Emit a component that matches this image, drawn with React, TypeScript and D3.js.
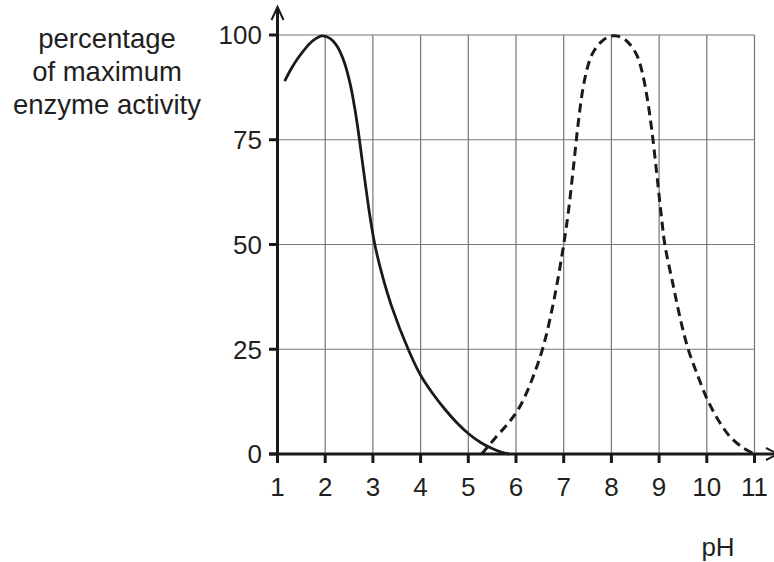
import React from "react";
import * as d3 from "d3";

const xTicks = [1, 2, 3, 4, 5, 6, 7, 8, 9, 10, 11];
const yTicks = [0, 25, 50, 75, 100];
const yLabelLines = ["percentage", "of maximum", "enzyme activity"];
const xLabel = "pH";

// enzyme A (solid)
const solidPH = [1.15, 1.3, 1.45, 1.6, 1.75, 1.93, 2.1, 2.25, 2.4, 2.52, 2.62, 2.7, 2.8, 2.94, 3.04, 3.2, 3.4, 3.74, 4.0, 4.25, 4.5, 4.75, 5.0, 5.25, 5.5, 5.7, 5.85];
const solidAct = [89, 92.2, 94.8, 97, 98.7, 99.8, 99.2, 97.3, 93.5, 88.5, 82.5, 76.5, 68, 56.6, 50, 42.5, 35, 25, 18.8, 14.5, 10.8, 7.6, 4.9, 2.8, 1.3, 0.4, 0];

// enzyme B (dashed)
const dashedPH = [5.28, 5.6, 5.85, 6.08, 6.33, 6.57, 6.8, 7.0, 7.1, 7.2, 7.3, 7.4, 7.5, 7.6, 7.78, 7.95, 8.07, 8.25, 8.4, 8.54, 8.64, 8.75, 8.85, 8.95, 9.05, 9.12, 9.3, 9.45, 9.61, 9.79, 10.0, 10.24, 10.49, 10.77, 11.0];
const dashedAct = [0, 4.3, 7.5, 11.3, 17.6, 25.6, 37, 50, 58, 68, 78.5, 87, 92.3, 95.5, 98.3, 99.6, 99.8, 99.2, 97.6, 95, 91.4, 85, 77, 67, 56.5, 50, 40, 32, 25, 19.3, 13.3, 8.1, 4.1, 1.4, 0];

const W = 774;
const H = 562;

export default function App() {
  const x = d3.scaleLinear().domain([1, 11]).range([277.5, 754.5]);
  const y = d3.scaleLinear().domain([0, 100]).range([454, 35]);

  const line = d3
    .line<[number, number]>()
    .x((d) => x(d[0]))
    .y((d) => y(d[1]))
    .curve(d3.curveCatmullRom.alpha(0.5));

  const solid = solidPH.map((p, i) => [p, solidAct[i]] as [number, number]);
  const dashed = dashedPH.map((p, i) => [p, dashedAct[i]] as [number, number]);

  const font = "'Liberation Sans', Arial, sans-serif";
  const textColor = "#231f20";
  const gridColor = "#777";
  const x0 = x(1);
  const xEnd = x(11);
  const y0 = y(0);

  return (
    <svg
      width={W}
      height={H}
      style={{ position: "absolute", left: 0, top: 0, background: "#fff" }}
      fontFamily={font}
    >
      {/* grid */}
      {xTicks.slice(1).map((t) => (
        <line key={"gx" + t} x1={x(t)} x2={x(t)} y1={y(100)} y2={y0} stroke={gridColor} strokeWidth={1.2} />
      ))}
      {yTicks.slice(1).map((t) => (
        <line key={"gy" + t} x1={x0} x2={xEnd} y1={y(t)} y2={y(t)} stroke={gridColor} strokeWidth={1.2} />
      ))}

      {/* curves */}
      <path d={line(solid) || ""} fill="none" stroke="#1a1a1a" strokeWidth={2.8} />
      <path d={line(dashed) || ""} fill="none" stroke="#1a1a1a" strokeWidth={3} strokeDasharray="9 5.5" />

      {/* axes */}
      <line x1={x0} x2={x0} y1={8} y2={y0 + 8} stroke="#1a1a1a" strokeWidth={3} />
      <path d={`M${x0 - 6},${20} L${x0},${7} L${x0 + 6},${20}`} fill="none" stroke="#1a1a1a" strokeWidth={2} />
      <line x1={269} x2={W} y1={y0} y2={y0} stroke="#1a1a1a" strokeWidth={3.2} />
      <path d={`M${W - 8},${y0 - 6} L${W + 4},${y0} L${W - 8},${y0 + 6}`} fill="none" stroke="#1a1a1a" strokeWidth={2} />

      {/* x ticks */}
      {xTicks.map((t) => (
        <g key={"xt" + t}>
          <line x1={x(t)} x2={x(t)} y1={y0} y2={y0 + 9} stroke="#1a1a1a" strokeWidth={3} />
          <text x={x(t)} y={496} textAnchor="middle" fontSize={26} fill={textColor}>
            {t}
          </text>
        </g>
      ))}

      {/* y ticks */}
      {yTicks.map((t) => (
        <g key={"yt" + t}>
          <line x1={269} x2={x0} y1={y(t)} y2={y(t)} stroke="#1a1a1a" strokeWidth={3} />
          <text x={262} y={y(t)} dy="0.36em" textAnchor="end" fontSize={26} fill={textColor}>
            {t}
          </text>
        </g>
      ))}

      {/* axis labels */}
      {yLabelLines.map((s, i) => (
        <text key={s} x={107} y={48 + i * 33} textAnchor="middle" fontSize={27.5} fill={textColor}>
          {s}
        </text>
      ))}
      <text x={718} y={556} textAnchor="middle" fontSize={26} fill={textColor}>
        {xLabel}
      </text>
    </svg>
  );
}
